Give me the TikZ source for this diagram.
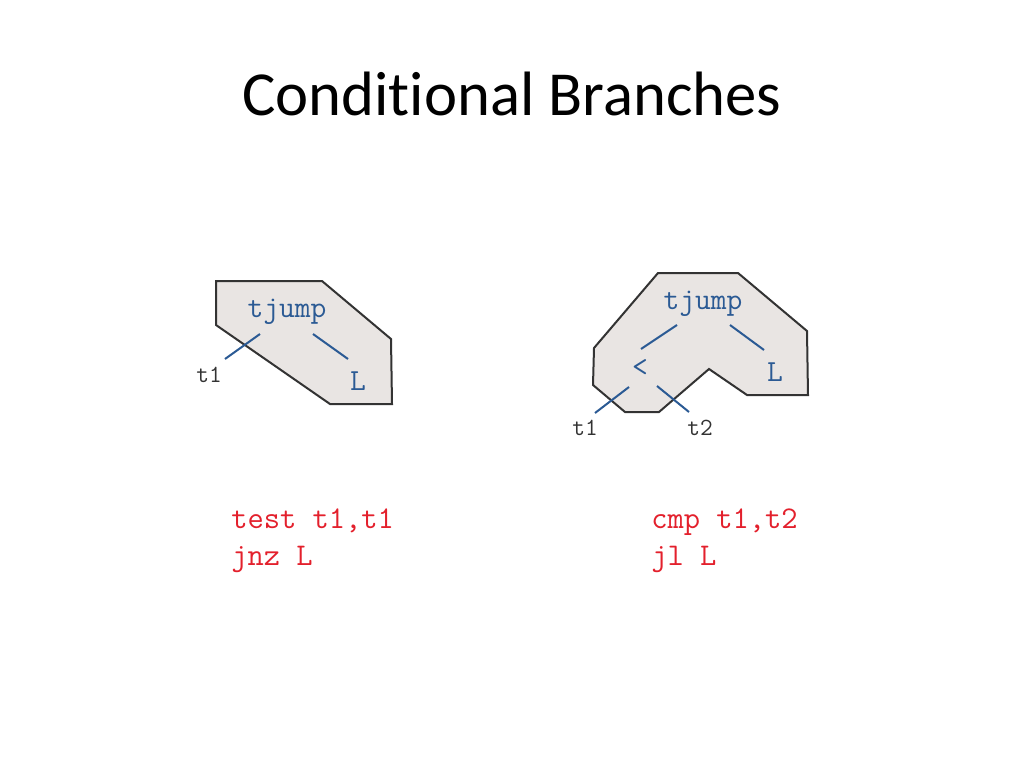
\documentclass[tikz,border=0pt]{standalone}
\usepackage{fontspec}
\setmainfont[Ligatures=NoCommon]{Carlito}
\setmonofont{Latin Modern Mono}
\definecolor{treeblue}{HTML}{2B5A94}
\definecolor{codered}{HTML}{E3202C}
\definecolor{tilefill}{HTML}{E9E5E3}
\definecolor{tileline}{HTML}{333333}
\begin{document}
\begin{tikzpicture}[x=0.75pt,y=-0.75pt,
  tile/.style={fill=tilefill,draw=tileline,line width=1.5pt,line join=miter},
  opnode/.style={font=\fontsize{23}{26}\selectfont\ttfamily,text=treeblue,inner sep=0pt,anchor=base},
  leaf/.style={font=\fontsize{18.5}{21}\selectfont\ttfamily,text=black!80,inner sep=0pt,anchor=base},
  edge/.style={draw=treeblue,line width=1.5pt},
  code/.style={font=\fontsize{23.7}{28}\selectfont\ttfamily,text=codered,inner sep=0pt,anchor=base west}]
\useasboundingbox (0,0) rectangle (1024,768);
\node[font=\fontsize{47}{52}\selectfont,anchor=base,inner sep=0pt] (title) at (512,115) {Conditional Branches};
% left tile
\draw[tile] (216,281) -- (322,281) -- (391,339) -- (392,404) -- (330,404) -- (216,325) -- cycle;
\node[opnode] (tj1) at (287,317) {tjump};
\node[opnode] (L1) at (358,390) {L};
\node[leaf] (t1a) at (209,382) {t1};
\coordinate (e1a) at (260,334); \coordinate (e1b) at (225,359);
\coordinate (e2a) at (313,334); \coordinate (e2b) at (348,359);
\draw[edge] (e1a) -- (e1b);
\draw[edge] (e2a) -- (e2b);
% right tile
\draw[tile] (658,273) -- (738,273) -- (807,331) -- (808,395) -- (747,395) -- (709,369) -- (659,412) -- (625,412) -- (593,385) -- (594,348) -- cycle;
\node[opnode] (tj2) at (703,309) {tjump};
\node[opnode,anchor=center] (lt) at (640,368) {<};
\node[opnode] (L2) at (775,381) {L};
\node[leaf] (t1b) at (585,435) {t1};
\node[leaf] (t2b) at (700,435) {t2};
\coordinate (f1a) at (677,325); \coordinate (f1b) at (641,349);
\coordinate (f2a) at (730,325); \coordinate (f2b) at (764,350);
\coordinate (f3a) at (629,387); \coordinate (f3b) at (595,413);
\coordinate (f4a) at (657,386); \coordinate (f4b) at (689,412);
\draw[edge] (f1a) -- (f1b);
\draw[edge] (f2a) -- (f2b);
\draw[edge] (f3a) -- (f3b);
\draw[edge] (f4a) -- (f4b);
% code
\node[code] (c1) at (231,528) {test t1,t1};
\node[code] (c2) at (231,565) {jnz L};
\node[code] (c3) at (651,528) {cmp t1,t2};
\node[code] (c4) at (651,565) {jl L};
\end{tikzpicture}
\end{document}
